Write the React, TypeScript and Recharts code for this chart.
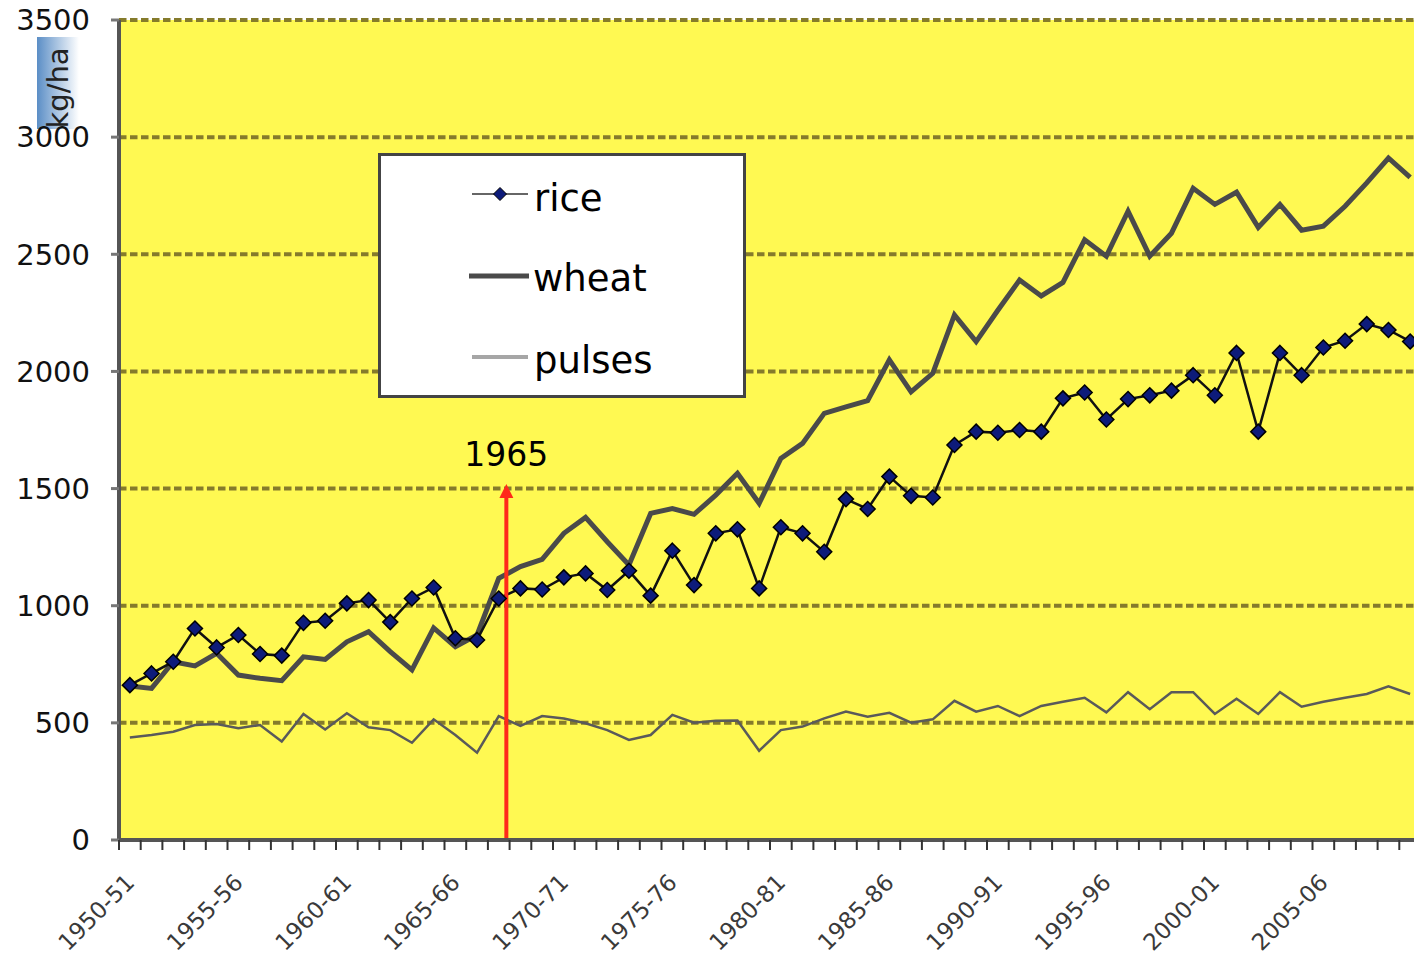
import React from 'react';
import { CartesianGrid, Legend, Line, LineChart, ReferenceLine, XAxis, YAxis } from 'recharts';

const years = [
  '1950-51', '1951-52', '1952-53', '1953-54', '1954-55', '1955-56', '1956-57', '1957-58', '1958-59', '1959-60',
  '1960-61', '1961-62', '1962-63', '1963-64', '1964-65', '1965-66', '1966-67', '1967-68', '1968-69', '1969-70',
  '1970-71', '1971-72', '1972-73', '1973-74', '1974-75', '1975-76', '1976-77', '1977-78', '1978-79', '1979-80',
  '1980-81', '1981-82', '1982-83', '1983-84', '1984-85', '1985-86', '1986-87', '1987-88', '1988-89', '1989-90',
  '1990-91', '1991-92', '1992-93', '1993-94', '1994-95', '1995-96', '1996-97', '1997-98', '1998-99', '1999-00',
  '2000-01', '2001-02', '2002-03', '2003-04', '2004-05', '2005-06', '2006-07', '2007-08', '2008-09', '2009-10'
];

// yields in kg/ha
const rice = [
  661, 711, 761, 903, 822, 875, 794, 787, 927, 936,
  1010, 1024, 930, 1031, 1078, 861, 854, 1031, 1074, 1069,
  1121, 1138, 1067, 1149, 1043, 1235, 1088, 1309, 1326, 1074,
  1335, 1309, 1230, 1455, 1413, 1551, 1469, 1462, 1686, 1743,
  1738, 1750, 1743, 1885, 1910, 1795, 1882, 1898, 1918, 1984,
  1898, 2079, 1743, 2079, 1984, 2102, 2131, 2202, 2177, 2128
];
const wheat = [
  657, 647, 761, 743, 797, 704, 690, 680, 782, 771,
  846, 889, 804, 726, 905, 825, 875, 1117, 1167, 1198,
  1309, 1377, 1273, 1174, 1394, 1415, 1390, 1472, 1565, 1437,
  1629, 1693, 1821, 1849, 1875, 2049, 1913, 1992, 2241, 2127,
  2261, 2390, 2322, 2380, 2562, 2492, 2684, 2492, 2590, 2782,
  2713, 2765, 2615, 2713, 2603, 2620, 2705, 2805, 2911, 2828
];
const pulses = [
  438, 448, 462, 491, 495, 477, 491, 420, 538, 472,
  541, 481, 469, 415, 515, 448, 373, 529, 487, 529,
  519, 498, 469, 427, 448, 534, 501, 509, 510, 381,
  469, 484, 519, 548, 526, 543, 501, 515, 594, 548,
  572, 529, 572, 590, 607, 545, 631, 558, 631, 631,
  538, 603, 538, 631, 569, 590, 607, 623, 656, 623
];
const yTicks = [0, 500, 1000, 1500, 2000, 2500, 3000, 3500];

const ARROW_YEAR = '1967-68';
const ARROW_TOP = 1520;
const ARROW_TEXT = '1965';
const UNIT = 'kg/ha';

const CHART_W = 1430;
const CHART_H = 955;
const MARGIN = { top: 20, right: 9, bottom: 0, left: 0 };
const Y_AXIS_W = 119;
const X_AXIS_H = 115;
const BAND = (CHART_W - MARGIN.left - MARGIN.right - Y_AXIS_W) / years.length;
const FONT = '"DejaVu Sans", Verdana, sans-serif';
const RED = '#ff2a1a';

const data = years.map((year, i) => ({ year, rice: rice[i], wheat: wheat[i], pulses: pulses[i] }));

const diamondPoints = (cx: number, cy: number, r: number) =>
  `${cx},${cy - r} ${cx + r},${cy} ${cx},${cy + r} ${cx - r},${cy}`;

const RiceDot = (props: any) => {
  const { cx, cy, index } = props;
  if (cx == null || cy == null) return <g key={index} />;
  return <polygon key={index} points={diamondPoints(cx, cy, 7.5)} fill="#0d1b7a" stroke="#000" strokeWidth={1.5} />;
};

const XTick = (props: any) => {
  const { x, y, payload, index } = props;
  const tx = x + 6;
  const ty = y + 44;
  return (
    <g>
      <line x1={x - BAND / 2} x2={x - BAND / 2} y1={y} y2={y + 10} stroke="#333" strokeWidth={2} />
      {index % 5 === 0 && (
        <text
          x={tx}
          y={ty}
          transform={`rotate(-45 ${tx} ${ty})`}
          textAnchor="end"
          fontSize={23}
          fontFamily={FONT}
          fill="#3a3a3a"
        >
          {payload.value}
        </text>
      )}
    </g>
  );
};

const UnitLabel = () => (
  <g>
    <defs>
      <linearGradient id="unitGrad" x1="0" y1="0" x2="1" y2="0">
        <stop offset="0%" stopColor="#5b8ec6" />
        <stop offset="100%" stopColor="#ffffff" />
      </linearGradient>
    </defs>
    <rect x={37} y={37} width={42} height={92} fill="url(#unitGrad)" />
    <text
      x={0}
      y={0}
      transform="translate(68 88) rotate(-90)"
      textAnchor="middle"
      fontSize={29}
      fontFamily={FONT}
      fill="#222"
    >
      {UNIT}
    </text>
  </g>
);

const Arrow = (props: any) => {
  const { x1, y1, y2 } = props;
  if (x1 == null) return null;
  const x = x1 + BAND * 0.35;
  const top = Math.min(y1, y2);
  const bottom = Math.max(y1, y2);
  return (
    <g>
      <line x1={x} x2={x} y1={bottom} y2={top + 12} stroke={RED} strokeWidth={4} />
      <polygon points={`${x},${top} ${x + 7},${top + 14} ${x - 7},${top + 14}`} fill={RED} />
      <text x={x} y={top - 18} textAnchor="middle" fontSize={33} fontFamily={FONT} fill="#000">
        {ARROW_TEXT}
      </text>
    </g>
  );
};

const LegendBox = () => (
  <svg width={368} height={245} style={{ display: 'block' }}>
    <rect x={1.5} y={1.5} width={365} height={242} fill="#fff" stroke="#444" strokeWidth={3} />
    <line x1={94} x2={150} y1={41} y2={41} stroke="#666" strokeWidth={2} />
    <polygon points={diamondPoints(122, 41, 6.5)} fill="#0d1b7a" stroke="#000" strokeWidth={1} />
    <text x={156} y={58} fontSize={37} fontFamily={FONT} fill="#000">rice</text>
    <line x1={91} x2={151} y1={123} y2={123} stroke="#4a4a4a" strokeWidth={5} />
    <text x={155} y={138} fontSize={37} fontFamily={FONT} fill="#000">wheat</text>
    <line x1={94} x2={150} y1={204} y2={204} stroke="#a6a6a6" strokeWidth={4} />
    <text x={156} y={220} fontSize={37} fontFamily={FONT} fill="#000">pulses</text>
  </svg>
);

export default function App() {
  return (
    <div style={{ position: 'absolute', left: 0, top: 0, width: 1414, height: 955, overflow: 'hidden', background: '#fff' }}>
      <LineChart width={CHART_W} height={CHART_H} data={data} margin={MARGIN}>
        <CartesianGrid
          vertical={false}
          fill="#fff952"
          fillOpacity={1}
          stroke="#857b2b"
          strokeWidth={4}
          strokeDasharray="7.5 3.5"
        />
        <XAxis
          dataKey="year"
          height={X_AXIS_H}
          interval={0}
          padding={{ left: BAND / 2, right: BAND / 2 }}
          tickSize={0}
          tickMargin={0}
          tickLine={false}
          axisLine={{ stroke: '#555', strokeWidth: 4 }}
          tick={(p: any) => <XTick {...p} />}
        />
        <YAxis
          width={Y_AXIS_W}
          domain={[0, 3500]}
          ticks={yTicks}
          interval={0}
          tickSize={8}
          tickMargin={21}
          axisLine={{ stroke: '#555', strokeWidth: 4 }}
          tickLine={{ stroke: '#777', strokeWidth: 3 }}
          tick={{ fontSize: 29, fill: '#111', fontFamily: FONT }}
          label={() => <UnitLabel />}
        />
        <Line
          dataKey="pulses"
          name="pulses"
          stroke="#5a5a5a"
          strokeWidth={2.5}
          dot={false}
          isAnimationActive={false}
        />
        <Line
          dataKey="wheat"
          name="wheat"
          stroke="#4a4a4a"
          strokeWidth={5}
          dot={false}
          isAnimationActive={false}
        />
        <Line
          dataKey="rice"
          name="rice"
          stroke="#111"
          strokeWidth={2.5}
          dot={(p: any) => <RiceDot key={p.index} {...p} />}
          isAnimationActive={false}
        />
        <ReferenceLine
          segment={[{ x: ARROW_YEAR, y: 0 }, { x: ARROW_YEAR, y: ARROW_TOP }]}
          shape={(p: any) => <Arrow {...p} />}
        />
        <Legend
          layout="vertical"
          align="center"
          verticalAlign="middle"
          content={() => <LegendBox />}
          wrapperStyle={{ left: 378, top: 153, width: 368, height: 245 }}
        />
      </LineChart>
    </div>
  );
}
